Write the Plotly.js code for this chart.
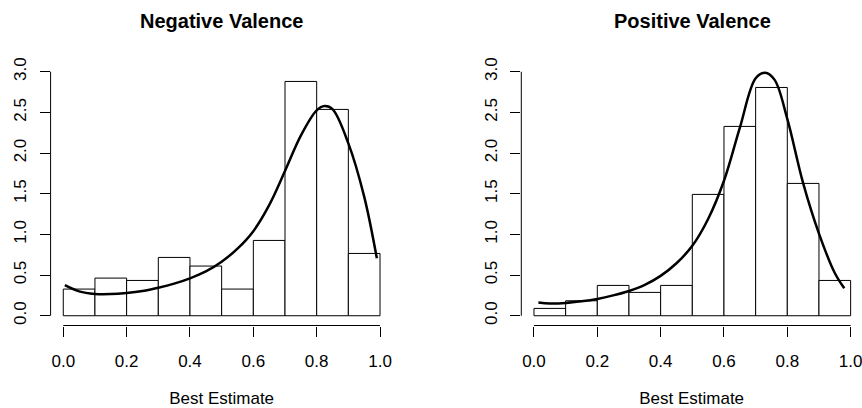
<!DOCTYPE html>
<html>
<head>
<meta charset="utf-8">
<script src="https://cdn.plot.ly/plotly-3.0.1.min.js"></script>
<style>html,body{margin:0;padding:0;background:#fff;}#chart{width:862px;height:408px;}</style>
</head>
<body>
<div id="chart"></div>
<script>
// Histogram bins (left edges), width 0.1
const binLeft = [0.0, 0.1, 0.2, 0.3, 0.4, 0.5, 0.6, 0.7, 0.8, 0.9];
const binWidth = 0.1;

// Negative valence: histogram densities
const negDensity = [0.328, 0.463, 0.434, 0.717, 0.611, 0.328, 0.926, 2.881, 2.537, 0.766];
// Negative valence: density curve
const negCurveX = [0.005, 0.05, 0.10, 0.15, 0.20, 0.25, 0.30, 0.35, 0.40, 0.45, 0.50, 0.55, 0.60, 0.65, 0.70, 0.75, 0.80, 0.825, 0.85, 0.90, 0.95, 0.99];
const negCurveY = [0.376, 0.300, 0.268, 0.266, 0.280, 0.305, 0.345, 0.395, 0.460, 0.545, 0.665, 0.825, 1.040, 1.360, 1.780, 2.215, 2.525, 2.578, 2.540, 2.120, 1.465, 0.706];

// Positive valence: histogram densities
const posDensity = [0.090, 0.184, 0.373, 0.287, 0.373, 1.492, 2.328, 2.807, 1.627, 0.434];
// Positive valence: density curve
const posCurveX = [0.014, 0.05, 0.10, 0.15, 0.20, 0.25, 0.30, 0.35, 0.40, 0.45, 0.50, 0.55, 0.60, 0.65, 0.70, 0.73, 0.76, 0.80, 0.85, 0.90, 0.95, 0.98];
const posCurveY = [0.164, 0.152, 0.158, 0.178, 0.207, 0.250, 0.305, 0.380, 0.490, 0.645, 0.860, 1.190, 1.660, 2.310, 2.920, 2.988, 2.900, 2.420, 1.630, 1.010, 0.525, 0.337];

// Tick labels
const xTicks = [0, 0.2, 0.4, 0.6, 0.8, 1.0];
const xTickText = ["0.0", "0.2", "0.4", "0.6", "0.8", "1.0"];
const yTicks = [0, 0.5, 1, 1.5, 2, 2.5, 3];
const yTickText = ["0.0", "0.5", "1.0", "1.5", "2.0", "2.5", "3.0"];

const titles = ["Negative Valence", "Positive Valence"];
const xLabel = "Best Estimate";

const FONT = "Liberation Sans, Arial, Helvetica, sans-serif";

function barTrace(dens, xa, ya) {
  return {
    type: "bar", x: binLeft, y: dens, width: binWidth, offset: 0,
    xaxis: xa, yaxis: ya,
    marker: {color: "#ffffff", line: {color: "#000000", width: 1}},
    hoverinfo: "skip", showlegend: false
  };
}
function curveTrace(x, y, xa, ya) {
  return {
    type: "scatter", mode: "lines", x: x, y: y, xaxis: xa, yaxis: ya,
    line: {color: "#000000", width: 2.5, shape: "spline", smoothing: 1},
    hoverinfo: "skip", showlegend: false
  };
}

const data = [
  barTrace(negDensity, "x", "y"),
  curveTrace(negCurveX, negCurveY, "x", "y"),
  barTrace(posDensity, "x2", "y2"),
  curveTrace(posCurveX, posCurveY, "x2", "y2")
];

function xAxis(domain, range, anchor) {
  return {
    domain: domain, range: range, anchor: anchor,
    showgrid: false, zeroline: false, showline: false,
    ticks: "outside", ticklen: 10, tickwidth: 1, tickcolor: "#000",
    tickvals: xTicks, ticktext: xTickText,
    tickfont: {family: FONT, size: 17, color: "#000"},
    ticklabelstandoff: 10, ticklabeloverflow: "allow",
    title: {text: xLabel, font: {family: FONT, size: 17, color: "#000"}, standoff: 22},
    fixedrange: true
  };
}
function yAxis(domain, anchor) {
  return {
    domain: domain, range: [-0.12, 3.12], anchor: anchor,
    showgrid: false, zeroline: false, showline: false,
    ticks: "outside", ticklen: 10, tickwidth: 1, tickcolor: "#000",
    tickvals: yTicks, ticktext: yTickText, tickangle: -90,
    tickfont: {family: FONT, size: 17, color: "#000"},
    ticklabelstandoff: 7,
    fixedrange: true
  };
}

const yDom = [(408 - 325.5) / 408, (408 - 62) / 408];

const layout = {
  width: 862, height: 408,
  margin: {l: 0, r: 0, t: 0, b: 0},
  paper_bgcolor: "#fff", plot_bgcolor: "rgba(0,0,0,0)",
  bargap: 0,
  xaxis: xAxis([50.6 / 862, 392.7 / 862], [-0.04, 1.04], "y"),
  yaxis: yAxis(yDom, "x"),
  xaxis2: xAxis([521.3 / 862, 1], [-0.04, 1.0359], "y2"),
  yaxis2: yAxis(yDom, "x2"),
  shapes: [
    {type: "line", xref: "x", yref: "y domain", x0: 0, x1: 1, y0: 0, y1: 0, line: {color: "#000", width: 1}},
    {type: "line", xref: "x domain", yref: "y", x0: 0, x1: 0, y0: 0, y1: 3, line: {color: "#000", width: 1}},
    {type: "line", xref: "x2", yref: "y2 domain", x0: 0, x1: 1, y0: 0, y1: 0, line: {color: "#000", width: 1}},
    {type: "line", xref: "x2 domain", yref: "y2", x0: 0, x1: 0, y0: 0, y1: 3, line: {color: "#000", width: 1}}
  ],
  annotations: [
    {text: "<b>" + titles[0] + "</b>", xref: "paper", yref: "paper", x: 221.6 / 862, y: (408 - 21) / 408,
     xanchor: "center", yanchor: "middle", showarrow: false, font: {family: FONT, size: 20, color: "#000"}},
    {text: "<b>" + titles[1] + "</b>", xref: "paper", yref: "paper", x: 692.2 / 862, y: (408 - 21) / 408,
     xanchor: "center", yanchor: "middle", showarrow: false, font: {family: FONT, size: 20, color: "#000"}}
  ]
};

Plotly.newPlot("chart", data, layout, {staticPlot: true, displayModeBar: false});
</script>
</body>
</html>
